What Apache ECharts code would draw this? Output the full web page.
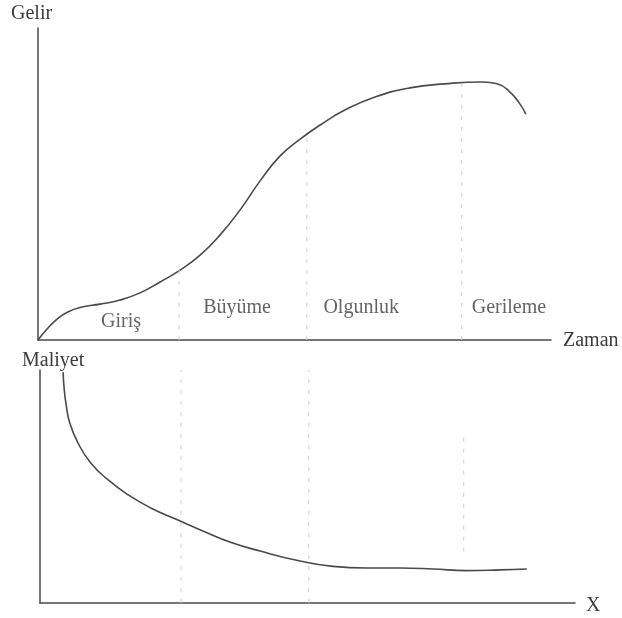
<!DOCTYPE html>
<html>
<head>
<meta charset="utf-8">
<script src="https://cdn.jsdelivr.net/npm/echarts@6/dist/echarts.min.js"></script>
<style>
  html, body { margin: 0; padding: 0; background: #fff; }
  #chart { width: 622px; height: 618px; }
</style>
</head>
<body>
<div id="chart"></div>
<script>
// Product life cycle: revenue (Gelir) over time and unit cost (Maliyet)

// Revenue curve, time units 0-100, revenue 0-100
const revenueTime = [0, 1.6, 3.5, 5.8, 8.6, 12.1, 16.0, 19.9, 23.8, 27.7, 31.6, 35.5, 39.4, 43.3, 47.2,
  51.1, 55.0, 59.8, 65.7, 72.5, 79.3, 86.7, 89.5, 91.8, 93.8, 95.1];
const revenueValue = [0, 3.2, 6.4, 9.0, 10.6, 11.5, 12.8, 15.1, 18.6, 22.4, 27.2, 33.7, 41.7, 51.0, 59.0,
  64.4, 68.9, 73.7, 77.9, 80.8, 82.1, 82.7, 82.1, 79.8, 76.0, 72.4];

// Cost curve
const costTime = [4.5, 4.7, 5.1, 5.8, 7.4, 9.9, 13.3, 17.2, 21.6, 26.9, 32.2, 37.0, 42.9, 50.7, 57.1,
  63.7, 70.2, 76.6, 83.2, 89.7, 94.9];
const costValue = [99.1, 92.3, 85.0, 77.3, 68.7, 60.1, 52.8, 46.4, 40.8, 35.6, 30.5, 26.2, 22.3, 18.0, 15.7,
  15.0, 15.0, 14.6, 13.9, 14.2, 14.6];

// Phase boundaries (dashed verticals)
const phaseBounds = [27.5, 52.4, 82.6];
const revenueDashTop = [22.4, 66.0, 82.4];
const costDashTop = [100, 100, 74];
const costDashBottom = [0, 0, 22];

// Phase names and where they sit in the revenue panel
const phaseNames = ['Giriş', 'Büyüme', 'Olgunluk', 'Gerileme'];
const phaseLabelX = [16.2, 38.8, 63.0, 91.8];
const phaseLabelY = [5.8, 10.3, 10.3, 10.3];

const ink = '#4a4a4a';
const textInk = '#3c3c3c';
const serif = '"Liberation Serif", "DejaVu Serif", serif';

const zip = (xs, ys) => xs.map((x, i) => [x, ys[i]]);

const series = [
  {
    type: 'line', xAxisIndex: 0, yAxisIndex: 0,
    data: zip(revenueTime, revenueValue),
    smooth: 0.5, showSymbol: false, silent: true,
    lineStyle: { color: ink, width: 1.6 }
  },
  {
    type: 'line', xAxisIndex: 1, yAxisIndex: 1,
    data: zip(costTime, costValue),
    smooth: 0.5, showSymbol: false, silent: true,
    lineStyle: { color: ink, width: 1.6 }
  },
  {
    type: 'scatter', xAxisIndex: 0, yAxisIndex: 0,
    symbolSize: 0, silent: true,
    data: phaseNames.map((n, i) => ({ name: n, value: [phaseLabelX[i], phaseLabelY[i]] })),
    label: {
      show: true, position: 'inside', formatter: p => p.name,
      fontFamily: serif, fontSize: 20, color: textInk
    }
  }
];

phaseBounds.forEach((x, i) => {
  series.push({
    type: 'line', xAxisIndex: 0, yAxisIndex: 0,
    data: [[x, 0], [x, revenueDashTop[i]]],
    showSymbol: false, silent: true,
    lineStyle: { color: '#cfcfcf', width: 1, type: [4, 7] }
  });
  series.push({
    type: 'line', xAxisIndex: 1, yAxisIndex: 1,
    data: [[x, costDashBottom[i]], [x, costDashTop[i]]],
    showSymbol: false, silent: true,
    lineStyle: { color: '#cfcfcf', width: 1, type: [4, 7] }
  });
});

const hiddenParts = {
  axisTick: { show: false }, axisLabel: { show: false }, splitLine: { show: false }
};

const option = {
  backgroundColor: '#fff',
  animation: false,
  grid: [
    { left: 38, top: 28, right: 71, bottom: 278 },
    { left: 40, top: 370, right: 47, bottom: 15 }
  ],
  xAxis: [
    Object.assign({ type: 'value', gridIndex: 0, min: 0, max: 100,
      axisLine: { lineStyle: { color: ink, width: 1.5 } } }, hiddenParts),
    Object.assign({ type: 'value', gridIndex: 1, min: 0, max: 104.3,
      axisLine: { lineStyle: { color: ink, width: 1.5 } } }, hiddenParts)
  ],
  yAxis: [
    Object.assign({ type: 'value', gridIndex: 0, min: 0, max: 100,
      axisLine: { show: true, lineStyle: { color: ink, width: 1.5 } } }, hiddenParts),
    Object.assign({ type: 'value', gridIndex: 1, min: 0, max: 100,
      axisLine: { show: true, lineStyle: { color: ink, width: 1.5 } } }, hiddenParts)
  ],
  graphic: [
    { type: 'text', left: 11, top: 4, style: { text: 'Gelir', font: '20px ' + serif, fill: textInk } },
    { type: 'text', left: 563, top: 331, style: { text: 'Zaman', font: '20px ' + serif, fill: textInk } },
    { type: 'text', left: 22, top: 351, style: { text: 'Maliyet', font: '20px ' + serif, fill: textInk } },
    { type: 'text', left: 586, top: 596, style: { text: 'X', font: '20px ' + serif, fill: textInk } }
  ],
  series: series
};

const chart = echarts.init(document.getElementById('chart'), null, { renderer: 'canvas' });
chart.setOption(option);
</script>
</body>
</html>
